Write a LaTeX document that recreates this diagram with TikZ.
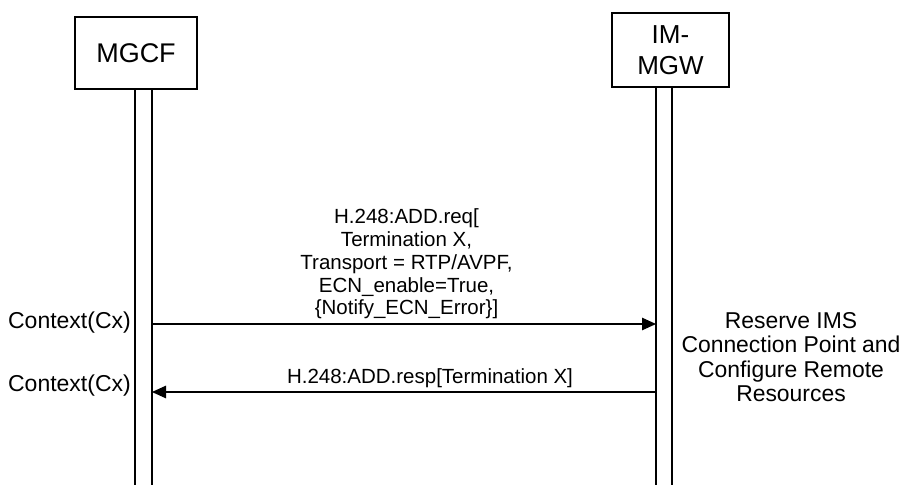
\documentclass[tikz,border=0pt]{standalone}
\usepackage{fontspec}
\setmainfont{Liberation Sans}
\usetikzlibrary{arrows.meta}
\begin{document}
\begin{tikzpicture}[x=1pt,y=-1pt,
 entity/.style={draw, line width=1.2pt, inner sep=0pt, align=center},
 life/.style={line width=1.2pt},
 msg/.style={line width=1.2pt, -{Triangle[length=14pt,width=12.5pt]}},
 lbl/.style={inner sep=0pt, align=center, font=\fontsize{20.5}{22.7}\selectfont},
 ctx/.style={inner sep=0pt, anchor=base east, font=\fontsize{23}{26}\selectfont},
 note/.style={inner sep=0pt, align=center, font=\fontsize{22.9}{24.5}\selectfont}
]
\useasboundingbox (0,0) rectangle (903,485);
\node[entity, minimum width=122pt, minimum height=72pt, font=\fontsize{27}{31}\selectfont] (mgcf) at (136,53) {MGCF};
\node[entity, minimum width=117pt, minimum height=74pt, font=\fontsize{26}{31.5}\selectfont] (mgw) at (670.5,50) {IM-\\MGW};
% lifelines
\coordinate (m1t) at (135,89);  \coordinate (m1b) at (135,485);
\coordinate (m2t) at (152,89);  \coordinate (m2b) at (152,485);
\coordinate (g1t) at (656,87);  \coordinate (g1b) at (656,485);
\coordinate (g2t) at (672,87);  \coordinate (g2b) at (672,485);
\draw[life] (m1t) -- (m1b);
\draw[life] (m2t) -- (m2b);
\draw[life] (g1t) -- (g1b);
\draw[life] (g2t) -- (g2b);
% messages
\coordinate (r1s) at (152,324); \coordinate (r1e) at (656,324);
\coordinate (r2s) at (656,392); \coordinate (r2e) at (152,392);
\draw[msg] (r1s) -- (r1e);
\draw[msg] (r2s) -- (r2e);
\node[lbl] (reqlbl) at (406.5,264) {H.248:ADD.req[\\Termination X,\\Transport = RTP/AVPF,\\ECN\_enable=True,\\\{Notify\_ECN\_Error\}]};
\node[lbl, anchor=base] (resplbl) at (430,383) {H.248:ADD.resp[Termination X]};
\node[ctx] (ctx1) at (131,328) {Context(Cx)};
\node[ctx] (ctx2) at (131,391) {Context(Cx)};
\node[note] (res) at (791,357) {Reserve IMS\\Connection Point and\\Configure Remote\\Resources};
\end{tikzpicture}
\end{document}
